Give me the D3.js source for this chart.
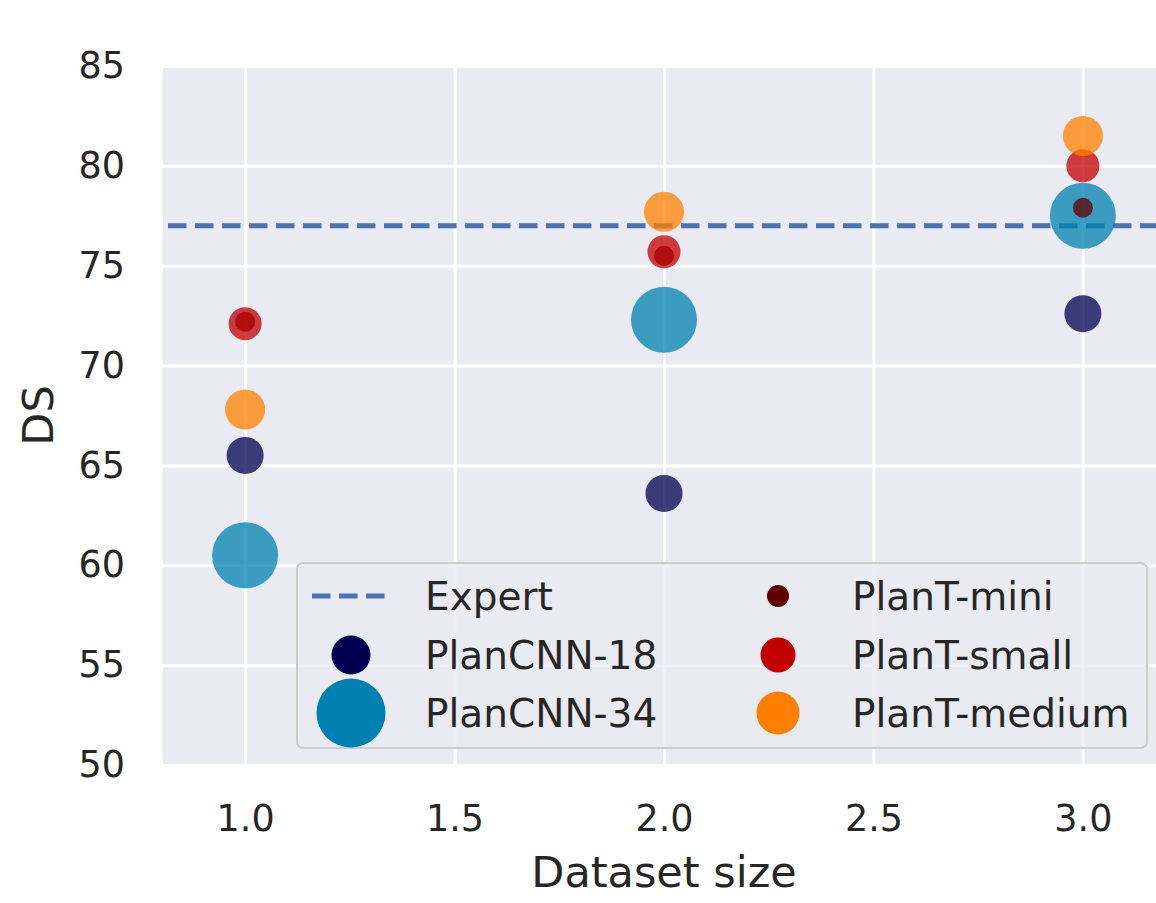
<!DOCTYPE html>
<html>
<head>
<meta charset="utf-8">
<script src="https://cdn.jsdelivr.net/npm/d3@7"></script>
<style>
  html, body { margin: 0; padding: 0; background: #ffffff; }
  svg { display: block; font-family: "DejaVu Sans", sans-serif; }
</style>
</head>
<body>
<svg id="chart" width="1156" height="903"></svg>
<script>
// ---- data ----
const datasetSizes = [1.0, 2.0, 3.0];
const seriesNames = ["PlanCNN-18", "PlanCNN-34", "PlanT-mini", "PlanT-small", "PlanT-medium"];
const planCNN18 = [65.5, 63.6, 72.6];
const planCNN34 = [60.5, 72.3, 77.5];
const planTMini = [72.2, 75.5, 77.9];
const planTSmall = [72.1, 75.7, 80.0];
const planTMedium = [67.8, 77.7, 81.5];
const expertDS = 77.0;
const xTicks = [1.0, 1.5, 2.0, 2.5, 3.0];
const yTicks = [50, 55, 60, 65, 70, 75, 80, 85];

// ---- styling ----
const seriesColors = {
  "PlanCNN-18": "#000050",
  "PlanCNN-34": "#0080b0",
  "PlanT-mini": "#600000",
  "PlanT-small": "#c00000",
  "PlanT-medium": "#ff8000"
};
const seriesRadius = {
  "PlanCNN-18": 18.5,
  "PlanCNN-34": 33,
  "PlanT-mini": 10,
  "PlanT-small": 16.5,
  "PlanT-medium": 20
};
const legendRadius = {
  "PlanCNN-18": 19.5,
  "PlanCNN-34": 34.5,
  "PlanT-mini": 11,
  "PlanT-small": 17.5,
  "PlanT-medium": 21.5
};
const seriesValues = {
  "PlanCNN-18": planCNN18,
  "PlanCNN-34": planCNN34,
  "PlanT-mini": planTMini,
  "PlanT-small": planTSmall,
  "PlanT-medium": planTMedium
};

const svg = d3.select("#chart");
const plot = { left: 163, top: 66, right: 1165, bottom: 765 };
const textColor = "#262626";

const x = d3.scaleLinear().domain([0.804, 3.196]).range([plot.left, plot.right]);
const y = d3.scaleLinear().domain([50, 85]).range([plot.bottom, plot.top]);

// background
svg.append("rect")
  .attr("x", plot.left).attr("y", plot.top)
  .attr("width", plot.right - plot.left).attr("height", plot.bottom - plot.top)
  .attr("fill", "#eaeaf2");

// gridlines via axes
const gx = svg.append("g")
  .attr("transform", `translate(0,${plot.bottom})`)
  .call(d3.axisBottom(x).tickValues(xTicks).tickSize(-(plot.bottom - plot.top)).tickFormat(""));
gx.select(".domain").remove();
gx.selectAll("line").attr("stroke", "#ffffff").attr("stroke-width", 3);

const gy = svg.append("g")
  .attr("transform", `translate(${plot.left},0)`)
  .call(d3.axisLeft(y).tickValues(yTicks).tickSize(-(plot.right - plot.left)).tickFormat(""));
gy.select(".domain").remove();
gy.selectAll("line").attr("stroke", "#ffffff").attr("stroke-width", 3);

// tick labels via axes
const tx = svg.append("g")
  .attr("transform", `translate(0,${plot.bottom})`)
  .call(d3.axisBottom(x).tickValues(xTicks).tickSize(0).tickPadding(40).tickFormat(d3.format(".1f")));
tx.select(".domain").remove();
tx.selectAll("text").attr("fill", textColor).style("font-size", "36.5px")
  .style("font-family", "DejaVu Sans, sans-serif");

const ty = svg.append("g")
  .attr("transform", `translate(${plot.left},0)`)
  .call(d3.axisLeft(y).tickValues(yTicks).tickSize(0).tickPadding(38).tickFormat(d3.format("d")));
ty.select(".domain").remove();
ty.selectAll("text").attr("fill", textColor).style("font-size", "36.5px")
  .style("font-family", "DejaVu Sans, sans-serif");

// axis labels
svg.append("text")
  .attr("x", (plot.left + plot.right) / 2).attr("y", 887)
  .attr("text-anchor", "middle").attr("fill", textColor)
  .style("font-size", "43px").text("Dataset size");
svg.append("text")
  .attr("transform", `translate(53,${(plot.top + plot.bottom) / 2}) rotate(-90)`)
  .attr("text-anchor", "middle").attr("fill", textColor)
  .style("font-size", "43px").text("DS");

// expert line
svg.append("line")
  .attr("x1", plot.left).attr("x2", plot.right)
  .attr("y1", y(expertDS)).attr("y2", y(expertDS))
  .attr("stroke", "#4c72b0").attr("stroke-width", 5)
  .attr("stroke-dasharray", "18.5,8.5").attr("stroke-dashoffset", -5);

// scatter points
seriesNames.forEach(name => {
  svg.append("g").selectAll("circle")
    .data(seriesValues[name].map((v, i) => ({ x: datasetSizes[i], y: v })))
    .join("circle")
    .attr("cx", d => x(d.x)).attr("cy", d => y(d.y))
    .attr("r", seriesRadius[name])
    .attr("fill", seriesColors[name])
    .attr("fill-opacity", 0.75);
});

// legend
const legend = svg.append("g");
legend.append("rect")
  .attr("x", 297).attr("y", 563).attr("width", 850).attr("height", 185)
  .attr("rx", 6).attr("ry", 6)
  .attr("fill", "#eaeaf2").attr("fill-opacity", 0.8)
  .attr("stroke", "#cccccc").attr("stroke-width", 2);

const col1 = { marker: 351, text: 425 };
const col2 = { marker: 778, text: 852 };
const rowY = [596, 655, 713];

legend.append("line")
  .attr("x1", col1.marker - 39).attr("x2", col1.marker + 39)
  .attr("y1", rowY[0]).attr("y2", rowY[0])
  .attr("stroke", "#4c72b0").attr("stroke-width", 5)
  .attr("stroke-dasharray", "18.5,8.5");

const legendItems = [
  { name: "Expert", col: col1, row: 0, line: true },
  { name: "PlanCNN-18", col: col1, row: 1 },
  { name: "PlanCNN-34", col: col1, row: 2 },
  { name: "PlanT-mini", col: col2, row: 0 },
  { name: "PlanT-small", col: col2, row: 1 },
  { name: "PlanT-medium", col: col2, row: 2 }
];
legendItems.forEach(it => {
  if (!it.line) {
    legend.append("circle")
      .attr("cx", it.col.marker).attr("cy", rowY[it.row])
      .attr("r", legendRadius[it.name])
      .attr("fill", seriesColors[it.name]);
  }
  legend.append("text")
    .attr("x", it.col.text).attr("y", rowY[it.row] + 14)
    .attr("fill", textColor).style("font-size", "39px")
    .text(it.name);
});
</script>
</body>
</html>
